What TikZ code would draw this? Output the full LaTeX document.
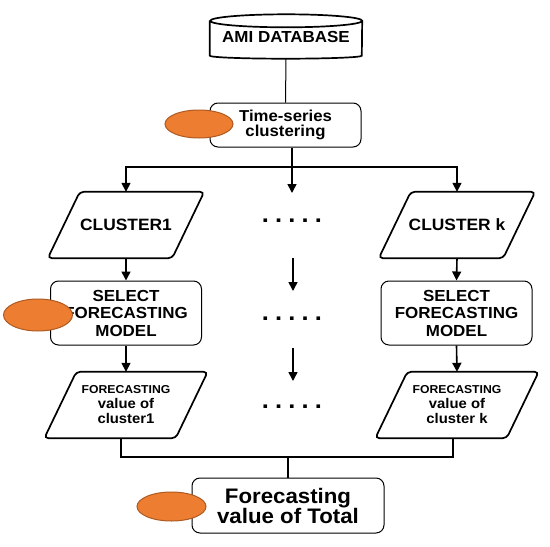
\documentclass[tikz,border=0pt]{standalone}
\usepackage{fontspec}
\setmainfont{Liberation Sans}[FakeStretch=1.06]
\usetikzlibrary{shapes.geometric,arrows.meta}

\definecolor{blobfill}{HTML}{ED7D31}
\definecolor{blobline}{HTML}{AE5A21}

\tikzset{
	stepbox/.style={draw, rounded corners=8pt, line width=1pt, align=center, inner sep=0pt},
	datain/.style={minimum height=66pt, align=center, inner sep=0pt,
		append after command={\pgfextra{
			\draw [line width=1.7pt, rounded corners=4pt]
				([xshift=16pt]\tikzlastnode.north west) -- ([xshift=16pt]\tikzlastnode.north east)
				-- ([xshift=-16pt]\tikzlastnode.south east) -- ([xshift=-16pt]\tikzlastnode.south west) -- cycle;
		}}},
	database/.style={align=center, inner sep=0pt,
		append after command={\pgfextra{
			\draw [line width=1.7pt]
				([yshift=-6.5pt]\tikzlastnode.north west) -- ([yshift=3pt]\tikzlastnode.south west)
				arc [start angle=180, end angle=360, x radius=76pt, y radius=3pt]
				-- ([yshift=-6.5pt]\tikzlastnode.north east)
				arc [start angle=0, end angle=180, x radius=76pt, y radius=6.5pt]
				arc [start angle=180, end angle=360, x radius=76pt, y radius=6.5pt];
		}}},
	arr/.style={line width=1.6pt, -{Triangle[length=9pt,width=9pt]}},
	link/.style={line width=1.4pt},
	blob/.style={ellipse, draw=blobline, fill=blobfill, line width=1pt, inner sep=0pt},
	dotrow/.style={font=\bfseries\fontsize{24}{24}\selectfont, inner sep=0pt}
}
\newcommand{\dotgap}{\hspace{6.2pt}}

\begin{document}
\begin{tikzpicture}[x=1pt, y=-1pt]
	\useasboundingbox (0,0) rectangle (550,547);

	% база данных
	\node [database, minimum width=152pt, minimum height=44pt,
		font=\bfseries\fontsize{16}{16}\selectfont] (db) at ( 286, 36.5 ) {\raisebox{-2pt}{AMI DATABASE}};

	% кластеризация
	\node [stepbox, minimum width=151pt, minimum height=44pt,
		font=\bfseries\fontsize{15.8}{15}\selectfont] (ts) at ( 285.5, 125 ) {Time-series\\clustering};

	% кластеры
	\node [datain, minimum width=124pt,
		font=\bfseries\fontsize{16.4}{17}\selectfont] (c1) at ( 126, 225 ) {CLUSTER1};
	\node [datain, minimum width=124pt,
		font=\bfseries\fontsize{16.4}{17}\selectfont] (ck) at ( 457, 225 ) {CLUSTER k};

	% выбор модели
	\node [stepbox, minimum width=151pt, minimum height=64pt,
		font=\bfseries\fontsize{16}{17.5}\selectfont] (s1) at ( 126, 313 ) {SELECT\\FORECASTING\\MODEL};
	\node [stepbox, minimum width=151pt, minimum height=64pt,
		font=\bfseries\fontsize{16}{17.5}\selectfont] (sk) at ( 456.5, 313 ) {SELECT\\FORECASTING\\MODEL};

	% прогноз по кластерам
	\node [datain, minimum width=131pt,
		font=\bfseries\fontsize{14}{15}\selectfont] (f1) at ( 126, 405 )
		{{\fontsize{11.5}{13}\selectfont FORECASTING}\\value of\\cluster1};
	\node [datain, minimum width=131pt,
		font=\bfseries\fontsize{14}{15}\selectfont] (fk) at ( 457, 405 )
		{{\fontsize{11.5}{13}\selectfont FORECASTING}\\value of\\cluster k};

	% итоговый прогноз
	\node [stepbox, minimum width=192pt, minimum height=55pt,
		font=\bfseries\fontsize{21}{20}\selectfont] (total) at ( 288, 505.5 ) {Forecasting\\value of Total};

	% средний столбец
	\node [dotrow] (dots1) at ( 292, 221 ) {.\dotgap.\dotgap.\dotgap.\dotgap.};
	\node [dotrow] (dots2) at ( 292, 319 ) {.\dotgap.\dotgap.\dotgap.\dotgap.};
	\node [dotrow] (dots3) at ( 292, 407 ) {.\dotgap.\dotgap.\dotgap.\dotgap.};

	\coordinate (fork)  at ( 292, 167 );
	\coordinate (mid1)  at ( 292, 193 );
	\coordinate (mid2a) at ( 293, 258 );
	\coordinate (mid2b) at ( 293, 291 );
	\coordinate (mid3a) at ( 293, 348 );
	\coordinate (mid3b) at ( 293, 381 );
	\coordinate (join)  at ( 288, 457 );

	% связи
	\draw [line width=1pt] (db.south) -- (ts.north);
	\draw [link] ([xshift=6.5pt]ts.south) -- (fork);
	\draw [arr] (fork) -- (mid1);
	\draw [arr] (fork) -| (c1.north);
	\draw [arr] (fork) -| (ck.north);
	\draw [arr] (mid2a) -- (mid2b);
	\draw [arr] (mid3a) -- (mid3b);

	\draw [arr] (c1.south) -- (s1.north);
	\draw [arr] (ck.south) -- (sk.north);
	\draw [arr] (s1.south) -- (f1.north);
	\draw [arr] (sk.south) -- (fk.north);

	\draw [link] ([xshift=-5pt]f1.south) |- (join) -| ([xshift=-4pt]fk.south);
	\draw [link] (join) -- (total.north);

	% метки
	\node [blob, minimum width=68pt, minimum height=28pt] (note1) at ( 199, 124 ) {};
	\node [blob, minimum width=69pt, minimum height=32pt] (note2) at ( 38, 315 ) {};
	\node [blob, minimum width=69pt, minimum height=29pt] (note3) at ( 171.5, 506.5 ) {};
\end{tikzpicture}
\end{document}
